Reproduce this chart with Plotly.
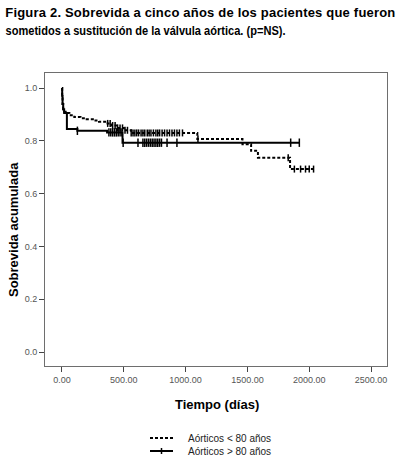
import plotly.graph_objects as go

# ---- data ----
# Group < 80 years (dashed): event times (days) and cumulative survival
lt80_time = [0, 2, 5, 10, 18, 30, 60, 100, 150, 200, 250, 300, 350, 400, 450, 500, 560, 1095, 1460, 1530, 1585, 1845, 2035]
lt80_surv = [1.0, 0.97, 0.94, 0.92, 0.91, 0.905, 0.897, 0.89, 0.886, 0.882, 0.877, 0.872, 0.866, 0.858, 0.849, 0.84, 0.83, 0.807, 0.787, 0.762, 0.736, 0.693, 0.693]
lt80_censored = [370, 390, 410, 430, 450, 470, 490, 510, 530, 560, 575, 590, 605, 620, 640, 655, 670, 690,
                 705, 720, 740, 760, 775, 790, 810, 830, 850, 870, 890, 910, 930, 950, 975,
                 1100, 1830, 1880, 1930, 1970, 2000, 2035]

# Group > 80 years (solid)
gt80_time = [0, 2, 5, 10, 18, 40, 125, 365, 490, 1920]
gt80_surv = [1.0, 0.97, 0.94, 0.92, 0.905, 0.845, 0.838, 0.832, 0.793, 0.793]
gt80_censored = [125, 380, 395, 410, 425, 440, 455, 470, 485, 495, 615, 655, 670, 685, 700, 715,
                 730, 745, 760, 775, 790, 805, 850, 930, 1850, 1920]

x_ticks = [0, 500, 1000, 1500, 2000, 2500]
x_tick_labels = ["0.00", "500.00", "1000.00", "1500.00", "2000.00", "2500.00"]
y_ticks = [0.0, 0.2, 0.4, 0.6, 0.8, 1.0]
y_tick_labels = ["0.0", "0.2", "0.4", "0.6", "0.8", "1.0"]

labels = ["Aórticos < 80 años", "Aórticos > 80 años"]
caption_line1 = "Figura 2. Sobrevida a cinco años de los pacientes que fueron"
caption_line2 = "sometidos a sustitución de la válvula aórtica. (p=NS)."


def surv_at(times, surv, t):
    s = surv[0]
    for ti, si in zip(times, surv):
        if ti <= t:
            s = si
    return s


FONT = "Liberation Sans, Arial, sans-serif"
W, H = 399, 460
L, R, T, B = 45, 12, 73, 94
PW, PH = W - L - R, H - T - B


def px(xp):
    return (xp - L) / PW


def py(yp):
    return (H - B - yp) / PH


DASH = "3px,2px"
fig = go.Figure()

# < 80 step curve
fig.add_trace(go.Scatter(
    x=lt80_time, y=lt80_surv, mode="lines", line_shape="hv",
    line=dict(color="black", width=2, dash=DASH), name=labels[0]))
fig.add_trace(go.Scatter(
    x=lt80_censored, y=[surv_at(lt80_time, lt80_surv, t) for t in lt80_censored],
    mode="markers", marker=dict(symbol="line-ns", size=5, line=dict(color="black", width=1.5)),
    hoverinfo="skip"))

# > 80 step curve
fig.add_trace(go.Scatter(
    x=gt80_time, y=gt80_surv, mode="lines", line_shape="hv",
    line=dict(color="black", width=2), name=labels[1]))
fig.add_trace(go.Scatter(
    x=gt80_censored, y=[surv_at(gt80_time, gt80_surv, t) for t in gt80_censored],
    mode="markers", marker=dict(symbol="line-ns", size=6, line=dict(color="black", width=1.5)),
    hoverinfo="skip"))

axis_common = dict(showgrid=False, zeroline=False, showline=True, mirror=True,
                   linecolor="#6e6e6e", linewidth=1, ticks="outside", ticklen=5,
                   tickcolor="#444444", tickwidth=1,
                   tickfont=dict(family=FONT, size=9, color="#555555"))

fig.update_layout(
    width=W, height=H,
    margin=dict(l=L, r=R, t=T, b=B, autoexpand=False),
    paper_bgcolor="white", plot_bgcolor="white",
    xaxis=dict(range=[-137, 2629], tickvals=x_ticks, ticktext=x_tick_labels, **axis_common),
    yaxis=dict(range=[-0.053, 1.057], tickvals=y_ticks, ticktext=y_tick_labels, **axis_common),
    showlegend=False,
)

# caption: line 1 is justified across the width, line 2 is the (shorter) last line
CAP_W1, CAP_W2 = 390, 280
for txt, yy, ww in [(caption_line1, 12, CAP_W1), (caption_line2, 30, CAP_W2)]:
    fig.add_annotation(text="<b>" + txt + "</b>", xref="paper", yref="paper",
                       x=px(5 + ww / 2), y=py(yy),
                       xanchor="center", yanchor="middle", showarrow=False,
                       font=dict(family=FONT, size=13, color="black"))
fig.add_annotation(text="<b>Sobrevida acumulada</b>", textangle=-90,
                   xref="paper", yref="paper", x=px(13), y=py(230),
                   xanchor="center", yanchor="middle", showarrow=False,
                   font=dict(family=FONT, size=13, color="black"))
fig.add_annotation(text="<b>Tiempo (días)</b>",
                   xref="paper", yref="paper", x=px(217), y=py(404),
                   xanchor="center", yanchor="middle", showarrow=False,
                   font=dict(family=FONT, size=13, color="black"))

# legend (drawn manually for compact spacing)
legend_rows = [(labels[0], 438, DASH, False), (labels[1], 451, "solid", True)]
for txt, yy, dash, tick in legend_rows:
    fig.add_shape(type="line", xref="paper", yref="paper",
                  x0=px(150), x1=px(173), y0=py(yy), y1=py(yy),
                  line=dict(color="black", width=2, dash=dash))
    if tick:
        fig.add_shape(type="line", xref="paper", yref="paper",
                      x0=px(161.5), x1=px(161.5), y0=py(yy - 3), y1=py(yy + 3),
                      line=dict(color="black", width=1.5))
    fig.add_annotation(text=txt, xref="paper", yref="paper", x=px(186), y=py(yy),
                       xanchor="left", yanchor="middle", showarrow=False,
                       font=dict(family=FONT, size=10, color="#222222"))

post = """
document.body.style.margin='0';document.body.style.padding='0';
function fitCaption(){
  document.querySelectorAll('text.annotation-text').forEach(function(t){
    var s = t.textContent || '';
    if (s.indexOf('Figura 2.') === 0) {
      t.setAttribute('textLength','%d'); t.setAttribute('lengthAdjust','spacing');
    } else if (s.indexOf('sometidos') === 0) {
      t.setAttribute('textLength','%d'); t.setAttribute('lengthAdjust','spacingAndGlyphs');
    }
  });
}
fitCaption(); setTimeout(fitCaption, 50); setTimeout(fitCaption, 300);
""" % (CAP_W1, CAP_W2)

fig.write_html("out.html", post_script=post, config={"displayModeBar": False})
